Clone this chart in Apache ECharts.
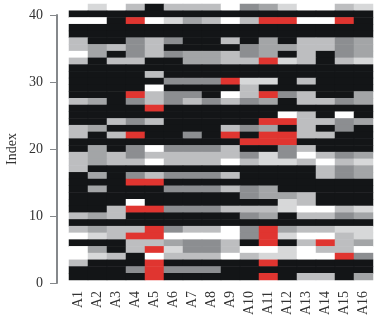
<!DOCTYPE html>
<html>
<head>
<meta charset="utf-8">
<style>html,body{margin:0;padding:0;background:#fff}#c{width:379px;height:324px}</style>
<script src="https://cdn.jsdelivr.net/npm/echarts@6/dist/echarts.min.js"></script>
</head>
<body>
<div id="c"></div>
<script>
const categories = ['A1','A2','A3','A4','A5','A6','A7','A8','A9','A10','A11','A12','A13','A14','A15','A16'];
const rowIndex = Array.from({length: 41}, (_, i) => String(i + 1));
const yTicks = {min: 0, max: 40, interval: 10};
// level colours: 0 black, 1-4 greys, 5 white, 6 red
const levelColors = ['#131517','#8c8e91','#a3a5a7','#bdbec0','#d7d8d9','#ffffff','#e03530'];
// rows listed from the top (index 41) to the bottom (index 1), columns A1..A16
const rowsTopDown = [
 [5,4,5,3,0,3,3,3,5,1,2,4,5,5,3,4],
 [0,0,0,0,0,0,0,0,0,0,0,0,0,0,0,0],
 [5,5,0,6,5,4,2,3,5,3,6,6,5,5,6,0],
 [0,0,0,0,0,0,0,0,0,0,0,0,0,0,0,0],
 [0,0,0,0,0,0,0,0,0,0,0,0,0,0,0,0],
 [3,0,0,1,3,1,0,0,3,0,2,0,3,3,1,2],
 [3,2,3,1,3,0,0,0,0,1,2,2,3,3,1,2],
 [5,2,0,1,3,1,2,2,3,1,2,0,3,0,1,2],
 [3,0,3,3,0,0,2,2,3,3,6,4,3,0,3,4],
 [0,0,0,0,0,0,0,0,0,0,0,0,0,0,0,0],
 [0,0,0,0,3,0,0,0,0,0,0,0,0,0,0,0],
 [0,0,0,0,0,1,1,1,6,4,4,0,3,0,0,0],
 [0,0,0,0,5,0,0,0,0,3,0,0,0,0,0,0],
 [0,0,0,6,3,1,1,0,5,3,6,1,3,0,0,2],
 [3,2,0,1,3,1,3,1,3,1,2,0,3,3,1,2],
 [0,0,0,0,6,0,0,0,0,0,0,0,0,0,0,0],
 [0,0,0,0,0,0,0,0,0,0,0,5,3,0,5,0],
 [0,0,3,1,3,0,0,0,0,0,6,6,3,3,1,2],
 [3,2,0,0,0,0,0,0,3,1,2,0,3,0,1,0],
 [3,0,3,6,0,0,1,0,6,0,6,6,3,3,0,0],
 [0,0,0,0,0,0,0,0,0,6,6,6,0,0,0,0],
 [0,2,0,1,5,1,1,1,3,0,0,1,3,0,0,0],
 [3,2,3,1,3,3,3,3,3,1,4,1,5,3,1,2],
 [3,2,3,3,5,3,3,3,5,3,4,4,3,5,3,4],
 [3,0,0,0,0,0,0,0,0,0,0,0,0,3,1,2],
 [0,2,0,1,3,1,1,1,3,0,0,0,0,3,1,2],
 [0,0,0,6,6,0,0,0,0,0,0,0,0,0,0,0],
 [0,2,0,0,0,1,1,1,3,1,2,0,0,0,0,0],
 [0,0,0,0,0,0,0,0,0,1,2,2,3,0,0,0],
 [0,0,0,5,0,0,0,0,0,0,0,4,3,0,0,0],
 [0,0,3,6,6,1,1,1,3,3,3,4,5,5,3,4],
 [3,2,3,0,0,0,0,0,0,1,2,0,3,3,1,2],
 [0,0,0,0,0,0,0,0,0,0,0,0,0,0,0,0],
 [3,2,3,3,6,1,3,3,5,1,6,2,3,3,4,4],
 [5,4,3,6,6,5,5,5,5,1,6,4,5,5,3,4],
 [0,0,0,3,3,2,1,1,3,0,6,0,3,6,3,2],
 [5,2,0,3,6,4,1,1,3,5,5,4,5,3,3,5],
 [5,4,3,0,5,3,3,3,5,3,4,4,5,5,6,1],
 [3,0,0,0,6,0,0,0,0,0,6,0,0,0,0,0],
 [0,0,0,1,6,1,1,1,0,0,0,0,0,0,0,0],
 [0,0,0,0,6,0,0,0,0,0,6,0,3,3,0,2]
];

const cells = [];
rowsTopDown.forEach((row, k) => row.forEach((v, c) => cells.push([c, rowsTopDown.length - 1 - k, v])));

const font = 'Liberation Serif';
const chart = echarts.init(document.getElementById('c'), null, {renderer: 'canvas'});
chart.setOption({
  animation: false,
  backgroundColor: '#fff',
  grid: [
    {left: 69, width: 304, top: 4, height: 276},
    {left: 57, width: 10, top: 15, height: 268}
  ],
  xAxis: [
    {type: 'category', gridIndex: 0, data: categories, axisLine: {show: false}, axisTick: {show: false}, splitLine: {show: false},
     axisLabel: {rotate: 90, interval: 0, margin: 11, fontFamily: font, fontSize: 14, color: '#333333'}},
    {type: 'value', gridIndex: 1, show: false, min: 0, max: 1}
  ],
  yAxis: [
    {type: 'category', gridIndex: 0, data: rowIndex, show: false},
    {type: 'value', gridIndex: 1, min: yTicks.min, max: yTicks.max, interval: yTicks.interval, position: 'left',
     name: 'Index', nameLocation: 'middle', nameGap: 38, nameRotate: 90,
     nameTextStyle: {fontFamily: font, fontSize: 14, color: '#333333'},
     axisLine: {show: true, lineStyle: {color: '#85888b', width: 2}},
     axisTick: {show: true, length: 7, lineStyle: {color: '#85888b', width: 1}},
     splitLine: {show: false},
     axisLabel: {margin: 14, fontFamily: font, fontSize: 14, color: '#333333'}}
  ],
  visualMap: {show: false, type: 'piecewise', seriesIndex: 0, dimension: 2,
    pieces: levelColors.map((c, i) => ({value: i, color: c}))},
  series: [{
    type: 'heatmap', xAxisIndex: 0, yAxisIndex: 0, data: cells, progressive: 0,
    itemStyle: {borderWidth: 0}, emphasis: {disabled: true}
  }]
});
</script>
</body>
</html>
